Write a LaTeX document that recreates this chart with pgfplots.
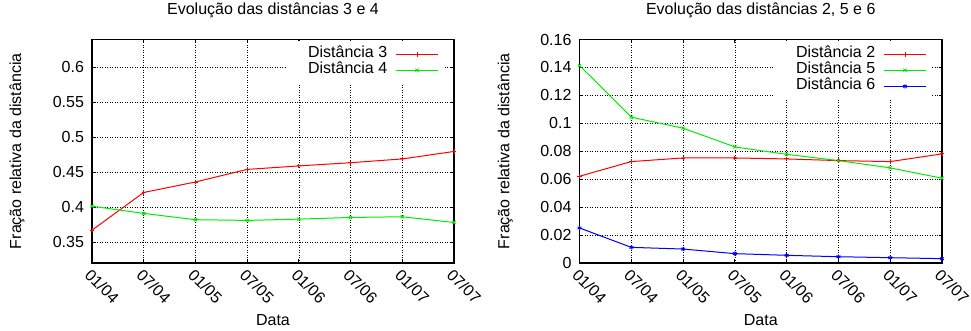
\documentclass[border=0pt]{standalone}
\usepackage{fontspec}
\setmainfont{Liberation Sans}
\usepackage{pgfplots}
\pgfplotsset{compat=1.18}
\definecolor{gred}{RGB}{255,0,0}
\definecolor{ggreen}{RGB}{0,235,0}
\definecolor{gblue}{RGB}{0,0,255}
\pgfplotsset{
  gp/.style={
    scale only axis, width=362bp, height=223.5bp,
    font=\fontsize{16bp}{18bp}\selectfont,
    xmin=0, xmax=7, xtick={0,...,7},
    xticklabels={01/04,07/04,01/05,07/05,01/06,07/06,01/07,07/07},
    xticklabel style={rotate=-45, anchor=north west},
    yticklabel style={xshift=-4.5bp, /pgf/number format/fixed, /pgf/number format/precision=2},
    /pgf/number format/assume math mode=true,
    scaled y ticks=false,
    grid=major,
    grid style={black, line width=0.5bp, dash pattern=on 0.75bp off 1.75bp},
    axis line style={black, line width=1.8bp},
    tick style={black, line width=1bp}, tick align=inside, major tick length=3.5bp,
    clip=false,
    title style={at={(axis description cs:0.5,1)}, anchor=base, yshift=18.8bp},
    xlabel style={at={(axis description cs:0.5,0)}, anchor=base, yshift=-62bp},
    legend plot pos=right, legend cell align=right,
    legend style={at={(axis description cs:0.9724,0.995)}, anchor=north east, draw=none, fill=white,
      inner xsep=5bp, inner ysep=5.5bp, row sep=0pt, column sep=6bp,
      nodes={inner ysep=0pt, text height=11.5bp, text depth=4.5bp}},
    legend image code/.code={\draw[mark repeat=2,mark phase=2,##1] plot coordinates {(0bp,0bp) (21.3bp,0bp) (42.6bp,0bp)};},
    every axis plot/.append style={line width=1bp, mark size=2.2bp, mark options={solid, line width=0.9bp}},
  }
}
\begin{document}
\begin{tikzpicture}
\useasboundingbox (0,0) rectangle (971bp,331bp);
\begin{axis}[gp, at={(92bp,68bp)}, anchor=south west,
  ymin=0.32, ymax=0.64, ytick={0.35,0.4,0.45,0.5,0.55,0.6},
  title={Evolução das distâncias 3 e 4},
  xlabel={Data}, ylabel={Fração relativa da distância},
  ylabel style={at={(axis description cs:-0.1961,0.5)}, anchor=base}]
\addplot[gred, mark=+] coordinates {(0,0.367) (1,0.421) (2,0.436) (3,0.454) (4,0.459) (5,0.4636) (6,0.469) (7,0.4797)};
\addlegendentry{\hspace*{14bp}Distância 3}
\addplot[ggreen, mark=x] coordinates {(0,0.4013) (1,0.391) (2,0.382) (3,0.381) (4,0.3828) (5,0.3852) (6,0.3862) (7,0.378)};
\addlegendentry{Distância 4}
\end{axis}
\begin{axis}[gp, at={(579.5bp,68bp)}, anchor=south west, width=362.5bp,
  ymin=0, ymax=0.16, ytick={0,0.02,0.04,0.06,0.08,0.1,0.12,0.14,0.16},
  title={Evolução das distâncias 2, 5 e 6},
  xlabel={Data}, ylabel={Fração relativa da distância},
  ylabel style={at={(axis description cs:-0.1937,0.5)}, anchor=base}]
\addplot[gred, mark=+] coordinates {(0,0.0621) (1,0.0726) (2,0.0752) (3,0.0752) (4,0.0745) (5,0.0733) (6,0.0726) (7,0.0781)};
\addlegendentry{\hspace*{14bp}Distância 2}
\addplot[ggreen, mark=x] coordinates {(0,0.1414) (1,0.1044) (2,0.0965) (3,0.0831) (4,0.0778) (5,0.0733) (6,0.0681) (7,0.0607)};
\addlegendentry{Distância 5}
\addplot[gblue, mark=asterisk] coordinates {(0,0.0251) (1,0.0112) (2,0.0100) (3,0.0067) (4,0.0055) (5,0.0045) (6,0.0038) (7,0.0031)};
\addlegendentry{Distância 6}
\end{axis}
\end{tikzpicture}
\end{document}
